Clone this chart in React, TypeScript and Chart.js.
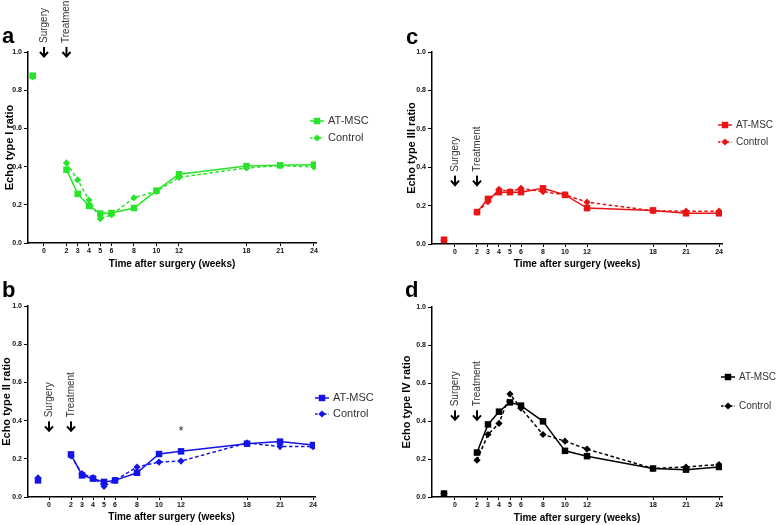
import React, { useEffect, useRef } from 'react';
import { Chart, registerables } from 'chart.js';

Chart.register(...registerables);

// ---------- data ----------
const weeks = [-1, 2, 3, 4, 5, 6, 8, 10, 12, 18, 21, 24];
const xTickValues = [0, 2, 3, 4, 5, 6, 8, 10, 12, 18, 21, 24];
const yTickValues = [0, 0.2, 0.4, 0.6, 0.8, 1.0];
const seriesNames = ['AT-MSC', 'Control'];
const eventLabels = ['Surgery', 'Treatment'];
const eventWeeks = [0, 2];
const xAxisTitle = 'Time after surgery (weeks)';
const panelLetters = ['a', 'b', 'c', 'd'];
const yAxisTitles = ['Echo type I ratio', 'Echo type II ratio', 'Echo type III ratio', 'Echo type IV ratio'];

const typeI_AT = [0.876, 0.384, 0.257, 0.194, 0.154, 0.157, 0.183, 0.274, 0.36, 0.403, 0.407, 0.41];
const typeI_Ctrl = [0.87, 0.419, 0.33, 0.225, 0.127, 0.148, 0.237, 0.27, 0.344, 0.393, 0.405, 0.398];
const typeII_AT = [0.087, 0.223, 0.113, 0.096, 0.079, 0.087, 0.127, 0.225, 0.239, 0.279, 0.29, 0.272];
const typeII_Ctrl = [0.1, 0.215, 0.122, 0.101, 0.056, 0.087, 0.157, 0.183, 0.188, 0.283, 0.264, 0.264];
const typeIII_AT = [0.022, 0.166, 0.235, 0.27, 0.27, 0.27, 0.29, 0.256, 0.187, 0.175, 0.16, 0.16];
const typeIII_Ctrl = [0.02, 0.166, 0.22, 0.285, 0.273, 0.29, 0.273, 0.256, 0.218, 0.173, 0.171, 0.171];
const typeIV_AT = [0.018, 0.234, 0.382, 0.449, 0.498, 0.481, 0.398, 0.243, 0.215, 0.15, 0.144, 0.158];
const typeIV_Ctrl = [0.018, 0.194, 0.329, 0.387, 0.542, 0.467, 0.329, 0.294, 0.252, 0.15, 0.158, 0.171];

// significance marker (panel b)
const sigWeek = 12;
const sigValue = 0.35;

const FONT = 'Arial, "Liberation Sans", sans-serif';

type PanelCfg = {
  letter: string;
  yTitle: string;
  at: number[];
  ctrl: number[];
  color: string;
  left: number; top: number; width: number; height: number;
  padL: number; padT: number; padR: number; padB: number;
  yAxisW: number; xAxisH: number;
  xMin: number; xMax: number;
  arrowVal: number;
  letterX: number; letterY: number;
  legX: number; legY1: number; legY2: number; legFont: number;
  sig?: boolean;
};

const panels: PanelCfg[] = [
  {
    letter: panelLetters[0], yTitle: yAxisTitles[0], at: typeI_AT, ctrl: typeI_Ctrl, color: 'rgb(40,228,40)',
    left: 0, top: 0, width: 390, height: 272,
    padL: 3, padT: 52, padR: 74, padB: 2, yAxisW: 25, xAxisH: 27,
    xMin: -1.42, xMax: 24.18, arrowVal: 1.0,
    letterX: 2, letterY: 43, legX: 317, legY1: 121, legY2: 138, legFont: 11,
  },
  {
    letter: panelLetters[1], yTitle: yAxisTitles[1], at: typeII_AT, ctrl: typeII_Ctrl, color: 'rgb(20,20,230)',
    left: 0, top: 272, width: 390, height: 253,
    padL: 0, padT: 34, padR: 75, padB: 2, yAxisW: 28, xAxisH: 26,
    xMin: -1.91, xMax: 24.18, arrowVal: 0.37,
    letterX: 2, letterY: 25, legX: 322, legY1: 126, legY2: 142, legFont: 11, sig: true,
  },
  {
    letter: panelLetters[2], yTitle: yAxisTitles[2], at: typeIII_AT, ctrl: typeIII_Ctrl, color: 'rgb(235,20,20)',
    left: 390, top: 0, width: 388, height: 272,
    padL: 15, padT: 52, padR: 56, padB: 2, yAxisW: 27, xAxisH: 26,
    xMin: -2.09, xMax: 24.27, arrowVal: 0.33,
    letterX: 16, letterY: 44, legX: 335, legY1: 125, legY2: 142, legFont: 10,
  },
  {
    letter: panelLetters[3], yTitle: yAxisTitles[3], at: typeIV_AT, ctrl: typeIV_Ctrl, color: 'rgb(0,0,0)',
    left: 390, top: 272, width: 388, height: 253,
    padL: 10, padT: 35, padR: 56, padB: 1, yAxisW: 32, xAxisH: 27,
    xMin: -2.09, xMax: 24.27, arrowVal: 0.43,
    letterX: 15, letterY: 25, legX: 338, legY1: 105, legY2: 134, legFont: 10,
  },
];

function drawSquare(ctx: CanvasRenderingContext2D, x: number, y: number, s: number) {
  ctx.fillRect(x - s / 2, y - s / 2, s, s);
}
function drawDiamond(ctx: CanvasRenderingContext2D, x: number, y: number, r: number) {
  ctx.beginPath();
  ctx.moveTo(x - r, y);
  ctx.lineTo(x, y - r);
  ctx.lineTo(x + r, y);
  ctx.lineTo(x, y + r);
  ctx.closePath();
  ctx.fill();
}

function Panel({ cfg }: { cfg: PanelCfg }) {
  const ref = useRef<HTMLCanvasElement>(null);
  useEffect(() => {
    const canvas = ref.current;
    if (!canvas) return;
    const pts = (ys: number[]) => weeks.map((x, i) => ({ x, y: ys[i] }));
    const hideBaselineSeg = (c: any) => (c.p0.parsed.x < 0 ? 'rgba(0,0,0,0)' : undefined);
    const overlay = {
      id: 'overlay',
      afterDraw(chart: any) {
        const ctx: CanvasRenderingContext2D = chart.ctx;
        const xs = chart.scales.x;
        const ys = chart.scales.y;
        ctx.save();
        // panel letter
        ctx.fillStyle = '#000';
        ctx.font = `bold 22px ${FONT}`;
        ctx.textAlign = 'left';
        ctx.textBaseline = 'alphabetic';
        ctx.fillText(cfg.letter, cfg.letterX, cfg.letterY);
        // event arrows + labels
        const ay = ys.getPixelForValue(cfg.arrowVal);
        eventWeeks.forEach((w, i) => {
          const ax = xs.getPixelForValue(w);
          ctx.strokeStyle = '#000';
          ctx.lineWidth = 2;
          ctx.setLineDash([]);
          ctx.beginPath();
          ctx.moveTo(ax, ay - 5);
          ctx.lineTo(ax, ay + 4);
          ctx.stroke();
          ctx.beginPath();
          ctx.moveTo(ax - 4, ay);
          ctx.lineTo(ax, ay + 4.5);
          ctx.lineTo(ax + 4, ay);
          ctx.stroke();
          ctx.save();
          ctx.translate(ax, ay - 9);
          ctx.rotate(-Math.PI / 2);
          ctx.font = `10px ${FONT}`;
          ctx.fillStyle = '#333';
          ctx.textAlign = 'left';
          ctx.textBaseline = 'middle';
          ctx.fillText(eventLabels[i], 0, 0);
          ctx.restore();
        });
        // significance marker
        if (cfg.sig) {
          ctx.fillStyle = '#222';
          ctx.font = `12px ${FONT}`;
          ctx.textAlign = 'center';
          ctx.textBaseline = 'middle';
          ctx.fillText('*', xs.getPixelForValue(sigWeek), ys.getPixelForValue(sigValue) + 2);
        }
        // legend
        const rows = [cfg.legY1, cfg.legY2];
        rows.forEach((ly, i) => {
          ctx.strokeStyle = cfg.color;
          ctx.fillStyle = cfg.color;
          ctx.lineWidth = 1.5;
          ctx.setLineDash(i === 0 ? [] : [2.5, 2]);
          ctx.beginPath();
          ctx.moveTo(cfg.legX - 7, ly);
          ctx.lineTo(cfg.legX + 7, ly);
          ctx.stroke();
          ctx.setLineDash([]);
          if (i === 0) drawSquare(ctx, cfg.legX, ly, 6.5);
          else drawDiamond(ctx, cfg.legX, ly, 3.6);
          ctx.fillStyle = '#333';
          ctx.font = `${cfg.legFont}px ${FONT}`;
          ctx.textAlign = 'left';
          ctx.textBaseline = 'middle';
          ctx.fillText(seriesNames[i], cfg.legX + 11, ly);
        });
        ctx.restore();
      },
    };
    const chart = new Chart(canvas, {
      type: 'line',
      data: {
        datasets: [
          {
            label: seriesNames[1],
            data: pts(cfg.ctrl),
            borderColor: cfg.color,
            backgroundColor: cfg.color,
            borderWidth: 1.5,
            borderDash: [3.5, 2.5],
            pointStyle: 'rectRot',
            pointRadius: 3.6,
            pointBorderWidth: 0,
            tension: 0,
            fill: false,
            segment: { borderColor: hideBaselineSeg },
          } as any,
          {
            label: seriesNames[0],
            data: pts(cfg.at),
            borderColor: cfg.color,
            backgroundColor: cfg.color,
            borderWidth: 1.5,
            pointStyle: 'rect',
            pointRadius: 4.6,
            pointBorderWidth: 0,
            tension: 0,
            fill: false,
            segment: { borderColor: hideBaselineSeg },
          } as any,
        ],
      },
      options: {
        animation: false,
        responsive: false,
        maintainAspectRatio: false,
        events: [],
        layout: { padding: { left: cfg.padL, top: cfg.padT, right: cfg.padR, bottom: cfg.padB } },
        plugins: { legend: { display: false }, tooltip: { enabled: false }, title: { display: false } },
        scales: {
          x: {
            type: 'linear',
            min: cfg.xMin,
            max: cfg.xMax,
            afterBuildTicks: (s: any) => { s.ticks = xTickValues.map((v) => ({ value: v })); },
            afterFit: (s: any) => { s.height = cfg.xAxisH; },
            ticks: {
              autoSkip: false,
              maxRotation: 0,
              padding: 1,
              color: '#111',
              font: { family: FONT, size: 7, weight: 'bold' },
              callback: (v: any) => String(v),
            },
            grid: { display: true, drawOnChartArea: false, drawTicks: true, tickLength: 3, color: '#000', lineWidth: 1 },
            border: { display: true, color: '#000', width: 1.5 },
            title: {
              display: true,
              text: xAxisTitle,
              color: '#000',
              font: { family: FONT, size: 10, weight: 'bold' },
              padding: 0,
            },
          },
          y: {
            type: 'linear',
            min: 0,
            max: 1,
            afterBuildTicks: (s: any) => { s.ticks = yTickValues.map((v) => ({ value: v })); },
            afterFit: (s: any) => { s.width = cfg.yAxisW; },
            ticks: {
              padding: 2,
              color: '#111',
              font: { family: FONT, size: 7, weight: 'bold' },
              callback: (v: any) => Number(v).toFixed(1),
            },
            grid: { display: true, drawOnChartArea: false, drawTicks: true, tickLength: 4, color: '#000', lineWidth: 1 },
            border: { display: true, color: '#000', width: 1.5 },
            title: {
              display: true,
              text: cfg.yTitle,
              color: '#000',
              font: { family: FONT, size: 11, weight: 'bold' },
              padding: 0,
            },
          },
        },
      } as any,
      plugins: [overlay],
    });
    return () => chart.destroy();
  }, [cfg]);
  return (
    <canvas
      ref={ref}
      width={cfg.width}
      height={cfg.height}
      style={{ position: 'absolute', left: cfg.left, top: cfg.top, width: cfg.width, height: cfg.height }}
    />
  );
}

export default function App() {
  useEffect(() => {
    document.body.style.margin = '0';
    document.body.style.overflow = 'hidden';
  }, []);
  return (
    <div style={{ position: 'absolute', left: 0, top: 0, width: 778, height: 525, background: '#fff', overflow: 'hidden' }}>
      {panels.map((p) => (
        <Panel key={p.letter} cfg={p} />
      ))}
    </div>
  );
}
